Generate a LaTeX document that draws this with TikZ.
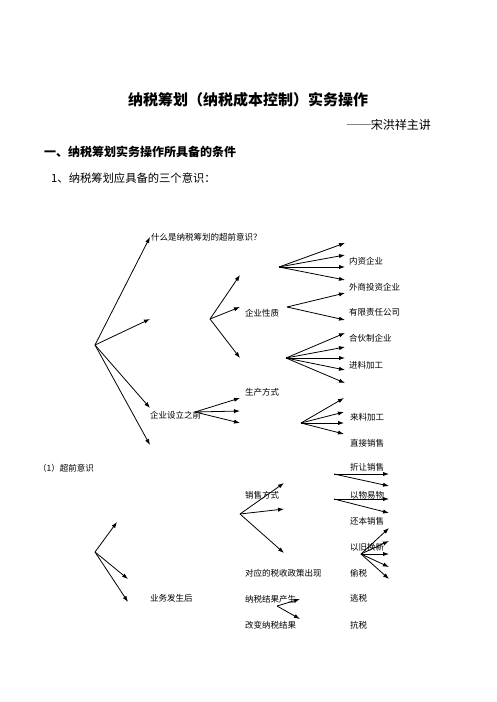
\documentclass[tikz,border=0pt]{standalone}
\usepackage{fontspec}
\setmainfont{Noto Sans CJK SC}
\usetikzlibrary{arrows.meta}
\begin{document}
\begin{tikzpicture}[x=1pt,y=-1pt,
  arr/.style={-{Latex[length=6pt,width=4.2pt]},line width=0.8pt,black},
  lbl/.style={anchor=west,inner sep=0pt,font=\fontsize{8.5}{10}\selectfont},
]
\useasboundingbox[fill=white] (0,0) rectangle (496,702);
% headings
\node[inner sep=0pt,font=\fontsize{15}{18}\selectfont\bfseries] (title) at (248,100) {纳税筹划（纳税成本控制）实务操作};
\node[anchor=east,inner sep=0pt,font=\fontsize{12}{14}\selectfont] (author) at (431,125) {──宋洪祥主讲};
\node[lbl,font=\fontsize{12}{14}\selectfont\bfseries] (head) at (44,152) {一、纳税筹划实务操作所具备的条件};
\node[lbl,font=\fontsize{11.3}{14}\selectfont] (line1) at (51,178) {1、纳税筹划应具备的三个意识：};
% labels
\node[lbl] (q) at (151,237) {什么是纳税筹划的超前意识？};
\node[lbl] (qysl) at (150,415) {企业设立之前};
\node[lbl] (qyxz) at (245,313) {企业性质};
\node[lbl] (scfs) at (245,392) {生产方式};
\node[lbl] (nzqy) at (349,261) {内资企业};
\node[lbl] (wstz) at (349,287) {外商投资企业};
\node[lbl] (yxzr) at (349,312) {有限责任公司};
\node[lbl] (hhz) at (349,338) {合伙制企业};
\node[lbl] (jljg) at (349,365) {进料加工};
\node[lbl] (lljg) at (350,417) {来料加工};
\node[lbl] (zjxs) at (350,443) {直接销售};
\node[lbl] (cqys) at (38,468) {（1）超前意识};
\node[lbl] (xsfs) at (245,495) {销售方式};
\node[lbl] (zrxs) at (350,467) {折让销售};
\node[lbl] (ywyw) at (350,495) {以物易物};
\node[lbl] (hbxs) at (350,521) {还本销售};
\node[lbl] (yjhx) at (350,547) {以旧换新};
\node[lbl] (ts) at (350,573) {偷税};
\node[lbl] (taos) at (350,598) {逃税};
\node[lbl] (kangs) at (350,625) {抗税};
\node[lbl] (ywfs) at (150,598) {业务发生后};
\node[lbl] (dyzc) at (245,573) {对应的税收政策出现};
\node[lbl] (nsjg) at (245,599) {纳税结果产生};
\node[lbl] (gbjg) at (245,625) {改变纳税结果};
% branch origins
\coordinate (oA) at (95,345);
\coordinate (oB) at (210,319);
\coordinate (oC) at (195,412);
\coordinate (oP) at (279,267);
\coordinate (oD) at (287,307);
\coordinate (oE) at (286,358);
\coordinate (oF) at (301,423);
\coordinate (oG) at (95,552);
\coordinate (oH) at (240,514);
\coordinate (oI) at (334,474);
\coordinate (oJ) at (334,499);
\coordinate (oK) at (361,554);
\coordinate (oL) at (277,606);
% end points
\coordinate (a1) at (150,237); \coordinate (a2) at (150,319); \coordinate (a3) at (150,408); \coordinate (a4) at (150,445);
\coordinate (b1) at (240,275); \coordinate (b2) at (240,307); \coordinate (b3) at (240,358);
\coordinate (c1) at (240,398); \coordinate (c2) at (240,411); \coordinate (c3) at (240,423);
\coordinate (p1) at (345,243); \coordinate (p2) at (345,255); \coordinate (p3) at (345,267); \coordinate (p4) at (345,280);
\coordinate (d1) at (345,293); \coordinate (d2) at (345,320);
\coordinate (e1) at (345,333); \coordinate (e2) at (345,347); \coordinate (e3) at (345,358); \coordinate (e4) at (345,370); \coordinate (e5) at (345,383);
\coordinate (f1) at (344,398); \coordinate (f2) at (344,412); \coordinate (f3) at (344,423); \coordinate (f4) at (344,434);
\coordinate (g1) at (117,522); \coordinate (g2) at (128,579); \coordinate (g3) at (128,602);
\coordinate (h1) at (284,483); \coordinate (h2) at (284,509); \coordinate (h3) at (284,553);
\coordinate (i1) at (389,474); \coordinate (i2) at (389,486);
\coordinate (j1) at (389,499); \coordinate (j2) at (389,513);
\coordinate (k1) at (389,528); \coordinate (k2) at (389,541); \coordinate (k3) at (389,554); \coordinate (k4) at (389,567); \coordinate (k5) at (389,579);
\coordinate (l1) at (300,599); \coordinate (l2) at (300,619);
% arrows
\foreach \i in {1,...,4} \draw[arr] (oA) -- (a\i);
\foreach \i in {1,...,3} \draw[arr] (oB) -- (b\i);
\foreach \i in {1,...,3} \draw[arr] (oC) -- (c\i);
\foreach \i in {1,...,4} \draw[arr] (oP) -- (p\i);
\foreach \i in {1,2} \draw[arr] (oD) -- (d\i);
\foreach \i in {1,...,5} \draw[arr] (oE) -- (e\i);
\foreach \i in {1,...,4} \draw[arr] (oF) -- (f\i);
\foreach \i in {1,...,3} \draw[arr] (oG) -- (g\i);
\foreach \i in {1,...,3} \draw[arr] (oH) -- (h\i);
\foreach \i in {1,2} \draw[arr] (oI) -- (i\i);
\foreach \i in {1,2} \draw[arr] (oJ) -- (j\i);
\foreach \i in {1,...,5} \draw[arr] (oK) -- (k\i);
\foreach \i in {1,2} \draw[arr] (oL) -- (l\i);
\end{tikzpicture}
\end{document}
